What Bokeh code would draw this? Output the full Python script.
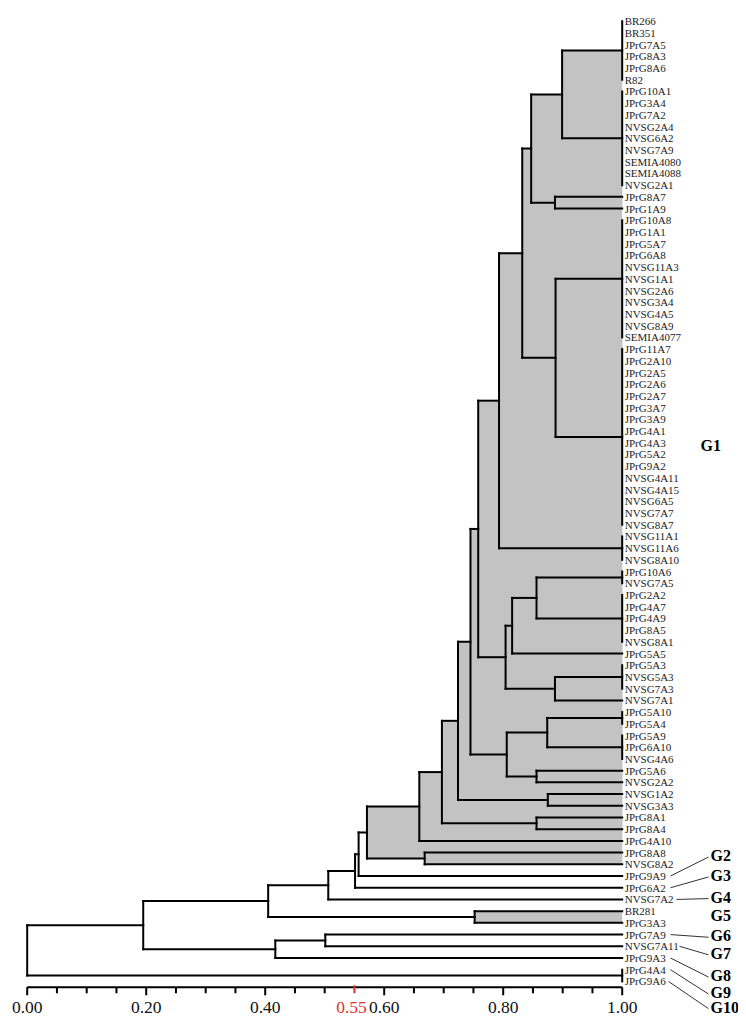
from bokeh.plotting import figure
from bokeh.models import Range1d
from bokeh.core.properties import value
from bokeh.embed import file_html
from bokeh.resources import INLINE

# ---------------- data ----------------
leaf_labels = ["BR266", "BR351", "JPrG7A5", "JPrG8A3", "JPrG8A6", "R82", "JPrG10A1", "JPrG3A4",
               "JPrG7A2", "NVSG2A4", "NVSG6A2", "NVSG7A9", "SEMIA4080", "SEMIA4088", "NVSG2A1",
               "JPrG8A7", "JPrG1A9", "JPrG10A8", "JPrG1A1", "JPrG5A7", "JPrG6A8", "NVSG11A3",
               "NVSG1A1", "NVSG2A6", "NVSG3A4", "NVSG4A5", "NVSG8A9", "SEMIA4077", "JPrG11A7",
               "JPrG2A10", "JPrG2A5", "JPrG2A6", "JPrG2A7", "JPrG3A7", "JPrG3A9", "JPrG4A1",
               "JPrG4A3", "JPrG5A2", "JPrG9A2", "NVSG4A11", "NVSG4A15", "NVSG6A5", "NVSG7A7",
               "NVSG8A7", "NVSG11A1", "NVSG11A6", "NVSG8A10", "JPrG10A6", "NVSG7A5", "JPrG2A2",
               "JPrG4A7", "JPrG4A9", "JPrG8A5", "NVSG8A1", "JPrG5A5", "JPrG5A3", "NVSG5A3",
               "NVSG7A3", "NVSG7A1", "JPrG5A10", "JPrG5A4", "JPrG5A9", "JPrG6A10", "NVSG4A6",
               "JPrG5A6", "NVSG2A2", "NVSG1A2", "NVSG3A3", "JPrG8A1", "JPrG8A4", "JPrG4A10",
               "JPrG8A8", "NVSG8A2", "JPrG9A9", "JPrG6A2", "NVSG7A2", "BR281", "JPrG3A3",
               "JPrG7A9", "NVSG7A11", "JPrG9A3", "JPrG4A4", "JPrG9A6"]

# groups of identical strains (similarity 1.00): first and last row (1-based)
tie_first = [1, 7, 18, 29, 45, 48, 50, 56, 60, 62, 82]
tie_last = [6, 15, 28, 44, 47, 49, 54, 58, 61, 64, 83]

# merges (children defined before parents); "L<n>" = leaf row n (or tie group starting at n)
node_names = ["a", "c", "b", "e", "d", "f", "j", "k", "l", "i", "g", "n", "o", "m", "h", "q", "p",
              "s", "r", "t", "v", "u", "n74", "n75", "y1", "g5", "x1", "n79", "n81", "w", "root"]
child_top = ["L1", "L16", "a", "L18", "b", "d", "L48", "j", "L56", "k", "f", "L60", "L65", "n", "g",
             "L67", "h", "L69", "p", "r", "L72", "t", "u", "n74", "n75", "L77", "y1", "L79", "n79",
             "x1", "w"]
child_bot = ["L7", "L17", "c", "L29", "e", "L45", "L50", "L55", "L59", "l", "i", "L62", "L66", "o",
             "m", "L68", "q", "L70", "s", "L71", "L73", "v", "L74", "L75", "L76", "L78", "g5", "L80",
             "L81", "n81", "L82"]
similarity = [0.899, 0.887, 0.847, 0.888, 0.832, 0.793, 0.856, 0.815, 0.887, 0.804, 0.758, 0.874,
              0.856, 0.806, 0.745, 0.875, 0.724, 0.856, 0.697, 0.659, 0.668, 0.571, 0.557, 0.551,
              0.506, 0.752, 0.405, 0.501, 0.417, 0.195, 0.000]

# shaded clusters: G1 (node "u") and G5 (node "g5")
shaded_roots = ["u", "g5"]

# axis
major_ticks = [0.00, 0.20, 0.40, 0.60, 0.80, 1.00]
major_tick_labels = ["0.00", "0.20", "0.40", "0.60", "0.80", "1.00"]
minor_ticks = [0.05, 0.10, 0.15, 0.25, 0.30, 0.35, 0.45, 0.50, 0.65, 0.70, 0.75, 0.85, 0.90, 0.95]
cut_value = [0.55]
cut_label = ["0.55"]

# group labels
group_names = ["G1", "G2", "G3", "G4", "G5", "G6", "G7", "G8", "G9", "G10"]
group_leaf_rows = [None, 74, 75, 76, None, 79, 80, 81, 82, 83]

# ---------------- layout constants ----------------
W, H = 738, 1017
PX_X = 595.0       # pixels per unit similarity
PX_ROW = 11.71     # pixels per leaf row
X0_PX = 26.7       # frame pixel of similarity 0
ROW1_PX = 20.7     # frame pixel of row 1

x_start = -X0_PX / PX_X
x_end = x_start + W / PX_X
r_top = 1 - ROW1_PX / PX_ROW
r_bot = 1 + (H - ROW1_PX) / PX_ROW

n_rows = len(leaf_labels)

# ---------------- geometry from the data ----------------
pos = {}
in_tie = set()
for f, l in zip(tie_first, tie_last):
    pos["L%d" % f] = (1.0, (f + l) / 2.0)
    for r in range(f, l + 1):
        in_tie.add(r)
for r in range(1, n_rows + 1):
    if r not in in_tie:
        pos["L%d" % r] = (1.0, float(r))

children = {}
for nm, ct, cb, s in zip(node_names, child_top, child_bot, similarity):
    pos[nm] = (s, (pos[ct][1] + pos[cb][1]) / 2.0)
    children[nm] = (ct, cb)

sx0, sy0, sx1, sy1 = [], [], [], []
for nm in node_names:
    s, _ = pos[nm]
    ct, cb = children[nm]
    sx0.append(s); sy0.append(pos[ct][1]); sx1.append(s); sy1.append(pos[cb][1])
    for c in (ct, cb):
        sx0.append(s); sy0.append(pos[c][1]); sx1.append(pos[c][0]); sy1.append(pos[c][1])
for f, l in zip(tie_first, tie_last):
    sx0.append(1.0); sy0.append(f); sx1.append(1.0); sy1.append(l)


def subtree(nm):
    out = []
    if nm in children:
        out.append(nm)
        for c in children[nm]:
            out += subtree(c)
    return out


ql, qr, qt, qb = [], [], [], []
for root in shaded_roots:
    for nm in subtree(root):
        ct, cb = children[nm]
        ql.append(pos[nm][0]); qr.append(1.0); qt.append(pos[ct][1]); qb.append(pos[cb][1])

# ---------------- figure ----------------
p = figure(width=W, height=H, output_backend="svg", toolbar_location=None,
           x_range=Range1d(x_start, x_end), y_range=Range1d(r_bot, r_top),
           min_border=0, x_axis_location=None, y_axis_location=None)
p.grid.visible = False
p.outline_line_color = None
p.background_fill_color = "white"
p.border_fill_color = "white"

p.quad(left=ql, right=qr, top=qt, bottom=qb, fill_color="#c3c3c3", line_color=None)
p.segment(x0=sx0, y0=sy0, x1=sx1, y1=sy1, line_color="black", line_width=2, line_cap="square")

serif = value("Liberation Serif")

# leaf labels
p.text(x=[1.0] * n_rows, y=list(range(1, n_rows + 1)), text=leaf_labels, x_offset=2.5,
       text_font=serif, text_font_size="11px", text_color="#222222",
       text_baseline="middle", text_align="left")

# axis drawn with the scale
axis_row = n_rows + 0.5
p.segment(x0=[major_ticks[0]], y0=[axis_row], x1=[major_ticks[-1]], y1=[axis_row],
          line_color="black", line_width=2)
p.segment(x0=major_ticks, y0=[axis_row] * len(major_ticks), x1=major_ticks,
          y1=[axis_row + 8 / PX_ROW] * len(major_ticks), line_color="black", line_width=2)
p.segment(x0=minor_ticks, y0=[axis_row] * len(minor_ticks), x1=minor_ticks,
          y1=[axis_row + 6 / PX_ROW] * len(minor_ticks), line_color="black", line_width=2)
p.segment(x0=cut_value, y0=[axis_row - 2 / PX_ROW], x1=cut_value,
          y1=[axis_row + 6 / PX_ROW], line_color="#e03030", line_width=2)
label_row = axis_row + 20 / PX_ROW
p.text(x=major_ticks, y=[label_row] * len(major_ticks), text=major_tick_labels,
       text_font=serif, text_font_size="17.5px", text_color="#111111",
       text_align="center", text_baseline="middle")
p.text(x=cut_value, y=[label_row], text=cut_label, x_offset=-3,
       text_font=serif, text_font_size="17.5px", text_color="#e03030",
       text_align="center", text_baseline="middle")

# group labels and connectors
g_label_x = [1.0 + (700 - 621.7) / PX_X] + [1.0 + (710 - 621.7) / PX_X] * 9
g_label_row = [37.2, 72.25, 73.95, 75.8, 77.4, 79.1, 80.6, 82.5, 83.95, 85.2]
p.text(x=g_label_x, y=g_label_row, text=group_names, text_font=serif,
       text_font_size="16px", text_font_style="bold", text_color="black",
       text_align="left", text_baseline="middle")

conn_start_px = {74: 670, 75: 670, 76: 676, 79: 670, 80: 679, 81: 670, 82: 670, 83: 668}
cx0, cy0, cx1, cy1 = [], [], [], []
for gx, gr, lr in zip(g_label_x, g_label_row, group_leaf_rows):
    if lr is None:
        continue
    cx0.append(1.0 + (conn_start_px[lr] - 621.7) / PX_X)
    cy0.append(lr)
    cx1.append(gx - 2 / PX_X)
    cy1.append(gr + 1.5 / PX_ROW)
p.segment(x0=cx0, y0=cy0, x1=cx1, y1=cy1, line_color="#333333", line_width=1)

open("out.html", "w").write(file_html(p, INLINE))
